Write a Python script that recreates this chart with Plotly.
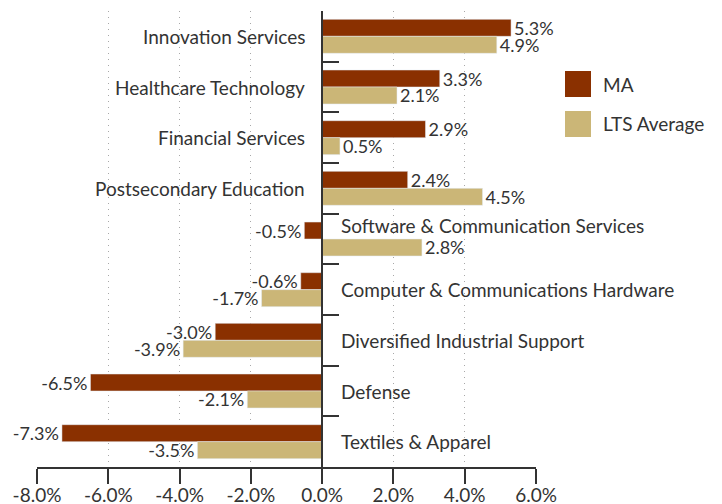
import plotly.graph_objects as go

# ----------------------------- data -----------------------------
categories = [
    "Innovation Services",
    "Healthcare Technology",
    "Financial Services",
    "Postsecondary Education",
    "Software & Communication Services",
    "Computer & Communications Hardware",
    "Diversified Industrial Support",
    "Defense",
    "Textiles & Apparel",
]
ma_values = [5.3, 3.3, 2.9, 2.4, -0.5, -0.6, -3.0, -6.5, -7.3]
lts_values = [4.9, 2.1, 0.5, 4.5, 2.8, -1.7, -3.9, -2.1, -3.5]
tick_vals = [-8, -6, -4, -2, 0, 2, 4, 6]
tick_text = ["-8.0%", "-6.0%", "-4.0%", "-2.0%", "0.0%", "2.0%", "4.0%", "6.0%"]

MA_COLOR = "#8a3000"
LTS_COLOR = "#cbb677"
TXT = "#333333"
FONT = "Lato"
FS = 19


def pct(v):
    return "%.1f%%" % v  # hyphen minus, like the original


fig = go.Figure()
fig.add_trace(go.Bar(name="MA", y=categories, x=ma_values, orientation="h",
                     marker_color=MA_COLOR, text=[pct(v) for v in ma_values],
                     textposition="outside", cliponaxis=False, constraintext="none",
                     textfont=dict(size=18, color=TXT, family=FONT)))
fig.add_trace(go.Bar(name="LTS Average", y=categories, x=lts_values, orientation="h",
                     marker_color=LTS_COLOR, text=[pct(v) for v in lts_values],
                     textposition="outside", cliponaxis=False, constraintext="none",
                     textfont=dict(size=18, color=TXT, family=FONT)))

# category labels sit next to the zero line, on the side away from the MA bar
for c, m in zip(categories, ma_values):
    shift_y = 14 if c.startswith("Software") else 0
    fig.add_annotation(x=0, y=c, xref="x", yref="y", text=c, showarrow=False,
                       xanchor="right" if m > 0 else "left",
                       xshift=-15 if m > 0 else 17, yshift=shift_y,
                       font=dict(size=FS, color=TXT, family=FONT))

# hand made legend with big swatches
for (name, col, top, bot, mid) in [("MA", MA_COLOR, 0.8684, 0.8114, 0.8399),
                                    ("LTS Average", LTS_COLOR, 0.7807, 0.7237, 0.7522)]:
    fig.add_shape(type="rect", xref="paper", yref="paper", x0=1.0581, x1=1.1102,
                  y0=bot, y1=top, fillcolor=col, line_width=0)
    fig.add_annotation(xref="paper", yref="paper", x=1.1303, y=mid, text=name,
                       showarrow=False, xanchor="left", yanchor="middle",
                       font=dict(size=FS, color=TXT, family=FONT))

fig.update_layout(
    width=722, height=504,
    margin=dict(l=37, r=186, t=11, b=37),
    paper_bgcolor="white", plot_bgcolor="white",
    barmode="group", bargap=0.33, bargroupgap=0,
    showlegend=False,
    font=dict(family=FONT, size=FS, color=TXT),
    xaxis=dict(range=[-8, 6], tickvals=tick_vals, ticktext=tick_text, automargin=False,
               showgrid=True, gridcolor="#a8a8a8", griddash="1px,5px", gridwidth=1,
               zeroline=False, showline=True, linecolor="#333333", linewidth=1.5,
               ticks="outside", ticklen=15, tickwidth=1.5, tickcolor="#333333",
               ticklabelstandoff=-5,
               tickfont=dict(size=FS, color=TXT, family=FONT)),
    yaxis=dict(autorange="reversed", showticklabels=False, showgrid=False, automargin=False,
               zeroline=False, showline=True, linecolor="#333333", linewidth=1.5,
               anchor="free", position=8 / 14,
               ticks="inside", tickson="boundaries", ticklen=16, tickwidth=1.5,
               tickcolor="#333333"),
)

# page body has a default 8px margin; drop it so the figure fills the window
fig.write_html("out.html", config={"displayModeBar": False},
               post_script="document.body.style.margin='0';")
